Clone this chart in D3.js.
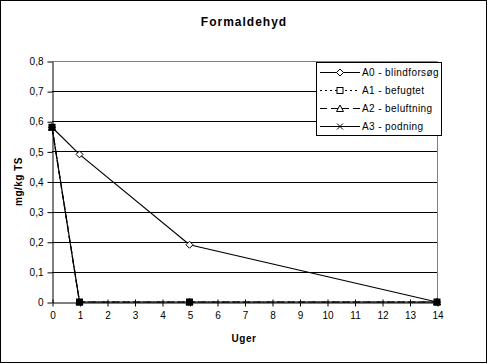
<!DOCTYPE html>
<html><head><meta charset="utf-8">
<script src="https://cdn.jsdelivr.net/npm/d3@7"></script>
<style>body{margin:0;background:#fff}svg{display:block;font-family:"Liberation Sans",Arial,sans-serif}</style>
</head><body><svg id="c" width="488" height="364"></svg>
<script>
const weeks = [0, 1, 5, 14];
const seriesNames = ["A0 - blindforsøg", "A1 - befugtet", "A2 - beluftning", "A3 - podning"];
const a0 = [0.58, 0.49, 0.19, 0];
const a1 = [0.58, 0, 0, 0];
const a2 = [0.58, 0, 0, 0];
const a3 = [0.58, 0, 0, 0];
const xTicks = d3.range(0, 15);
const yTicks = [0, 0.1, 0.2, 0.3, 0.4, 0.5, 0.6, 0.7, 0.8];

const series = [
  {name: seriesNames[0], values: a0, dash: null, marker: "diamond"},
  {name: seriesNames[1], values: a1, dash: "2,3", marker: "square"},
  {name: seriesNames[2], values: a2, dash: "7,4", marker: "triangle"},
  {name: seriesNames[3], values: a3, dash: null, marker: "cross"}
];

const svg = d3.select("#c");
svg.append("rect").attr("x",0.5).attr("y",0.5).attr("width",486).attr("height",362)
  .attr("fill","#fff").attr("stroke","#000");

const x = d3.scaleLinear().domain([0,14]).range([52,437]);
const y = d3.scaleLinear().domain([0,0.8]).range([302,61]);
const fmt = d => d === 0 ? "0" : d3.format(".1f")(d).replace(".", ",");

// gridlines
svg.append("g").selectAll("line").data(yTicks.filter(d => d > 0 && d < 0.8)).join("line")
  .attr("x1", x(0)).attr("x2", x(14))
  .attr("y1", d => Math.round(y(d)) + 0.5).attr("y2", d => Math.round(y(d)) + 0.5)
  .attr("stroke", "#000");
// plot border top/right gray
svg.append("path")
  .attr("d", `M${x(0)},${Math.round(y(0.8))+0.5}H${x(14)+0.5}V${Math.round(y(0))+0.5}`)
  .attr("fill","none").attr("stroke","#808080");

// axes
const yAxis = d3.axisLeft(y).tickValues(yTicks).tickFormat(fmt).tickSize(5).tickSizeOuter(0);
const gy = svg.append("g").attr("transform", `translate(${x(0)+0.5},0.5)`).call(yAxis);
gy.select(".domain").attr("stroke","#000");
gy.selectAll("text").attr("font-size", 10).attr("font-family","Liberation Sans, Arial, sans-serif").attr("dx", -1);

const xAxis = d3.axisBottom(x).tickValues(xTicks).tickFormat(d3.format("d")).tickSize(4).tickSizeOuter(0);
const gx = svg.append("g").attr("transform", `translate(0.5,${Math.round(y(0))+0.5})`).call(xAxis);
gx.selectAll("text").attr("font-size", 10).attr("font-family","Liberation Sans, Arial, sans-serif").attr("dy","0.9em");
gx.selectAll(".tick line").attr("y1", -3).attr("y2", 4);
gy.selectAll(".tick line").attr("x1", 0);

// titles
svg.append("text").attr("x", 244).attr("y", 26).attr("text-anchor","middle")
  .attr("font-size", 12).attr("font-weight","bold").attr("letter-spacing", 1).text("Formaldehyd");
svg.append("text").attr("x", 244).attr("y", 342).attr("text-anchor","middle")
  .attr("font-size", 10).attr("font-weight","bold").attr("letter-spacing", 0.5).text("Uger");
svg.append("text").attr("transform", `translate(22,${(y(0)+y(0.8))/2}) rotate(-90)`)
  .attr("text-anchor","middle").attr("font-size", 10).attr("font-weight","bold").attr("letter-spacing", 0.5).text("mg/kg TS");

function drawMarker(g, type, cx, cy) {
  if (type === "diamond") {
    g.append("path").attr("d", `M${cx},${cy-3.5}L${cx+3.5},${cy}L${cx},${cy+3.5}L${cx-3.5},${cy}Z`)
      .attr("fill","#fff").attr("stroke","#000").attr("stroke-width",1);
  } else if (type === "square") {
    g.append("rect").attr("x", cx-3.5).attr("y", cy-3.5).attr("width",7).attr("height",7)
      .attr("fill","#000");
  } else if (type === "triangle") {
    g.append("path").attr("d", `M${cx},${cy-3.5}L${cx+3.5},${cy+3}L${cx-3.5},${cy+3}Z`)
      .attr("fill","#fff").attr("stroke","#000");
  } else if (type === "cross") {
    g.append("path").attr("d", `M${cx-3},${cy-3}L${cx+3},${cy+3}M${cx-3},${cy+3}L${cx+3},${cy-3}`)
      .attr("stroke","#000");
  }
}

const line = d3.line().x(d => x(d[0])).y(d => y(d[1]));
const plot = svg.append("g");
series.forEach(s => {
  const pts = weeks.map((w,i) => [w, s.values[i]]);
  plot.append("path").attr("d", line(pts)).attr("fill","none").attr("stroke","#000")
    .attr("stroke-width", 1.2).attr("stroke-dasharray", s.dash);
});
// markers: square series drawn last so it sits on top
[series[0], series[2], series[3], series[1]].forEach(s => {
  const g = plot.append("g");
  weeks.forEach((w,i) => drawMarker(g, s.marker, x(w), y(s.values[i])));
});

// legend
const lg = svg.append("g");
lg.append("rect").attr("x", 316.5).attr("y", 62.5).attr("width", 125).attr("height", 73)
  .attr("fill","#fff").attr("stroke","#000");
series.forEach((s,i) => {
  const ly = 72 + i*18;
  lg.append("line").attr("x1",320).attr("x2",360).attr("y1",ly+0.5).attr("y2",ly+0.5)
    .attr("stroke","#000").attr("stroke-width",1.2).attr("stroke-dasharray", s.dash);
  const mg = lg.append("g");
  if (s.marker === "square") {
    mg.append("rect").attr("x",337).attr("y",ly-2.5).attr("width",6).attr("height",6)
      .attr("fill","#fff").attr("stroke","#000");
  } else drawMarker(mg, s.marker, 340, ly+0.5);
  lg.append("text").attr("x", 362).attr("y", ly+4).attr("font-size", 10).attr("letter-spacing", 0.4).text(s.name);
});
</script></body></html>
